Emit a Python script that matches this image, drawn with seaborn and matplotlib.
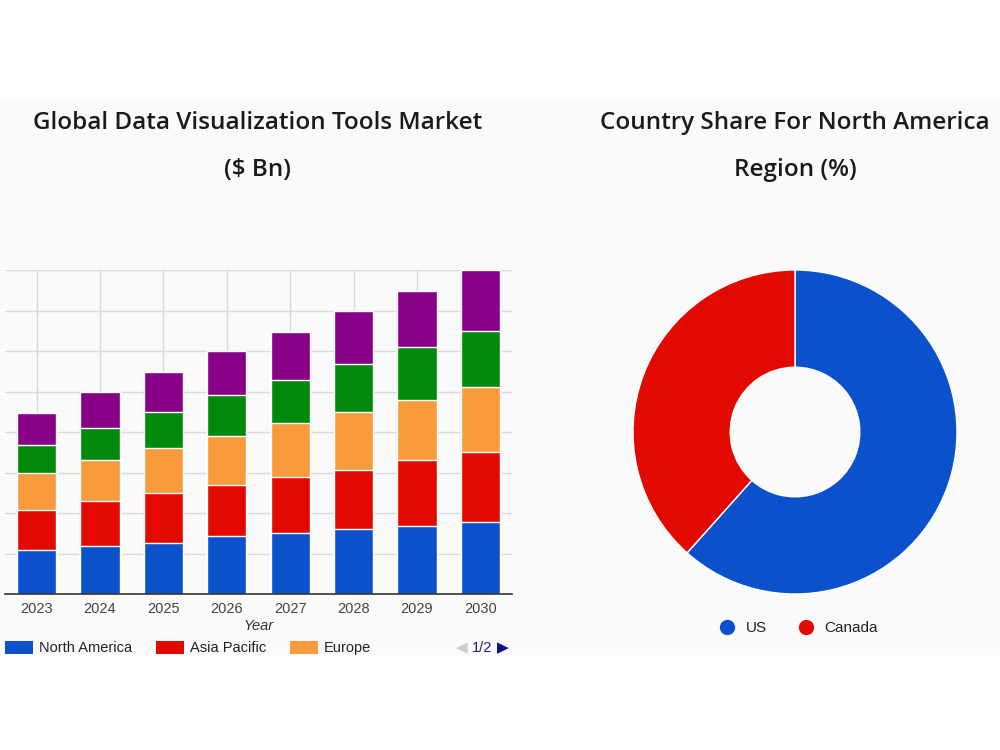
import numpy as np
import pandas as pd
import seaborn as sns
import matplotlib.pyplot as plt
from matplotlib.patches import Patch, Rectangle
from matplotlib.lines import Line2D

# data ($ Bn, y axis has no labels)
years = ["2023", "2024", "2025", "2026", "2027", "2028", "2029", "2030"]
north_america = [1.08, 1.18, 1.27, 1.42, 1.50, 1.60, 1.69, 1.79]
asia_pacific = [1.00, 1.12, 1.22, 1.26, 1.38, 1.47, 1.62, 1.71]
europe = [0.91, 1.01, 1.11, 1.21, 1.34, 1.43, 1.48, 1.62]
latin_america = [0.69, 0.80, 0.90, 1.03, 1.07, 1.18, 1.30, 1.38]
mea = [0.80, 0.89, 0.98, 1.08, 1.19, 1.31, 1.38, 1.50]

countries = ["US", "Canada"]
country_share = [61.6, 38.4]

region_names = ["North America", "Asia Pacific", "Europe", "Latin America", "MEA"]
region_colors = ["#0b51cb", "#e20a00", "#f99b3c", "#00890b", "#880088"]
country_colors = ["#0b51cb", "#e20a00"]

df = pd.DataFrame({"Year": years, "North America": north_america, "Asia Pacific": asia_pacific,
                   "Europe": europe, "Latin America": latin_america, "MEA": mea})

sns.set_style("whitegrid")
plt.rcParams["font.family"] = ["Liberation Sans", "DejaVu Sans"]
bg = "#fafafa"

fig = plt.figure(figsize=(10, 7.5), dpi=100)
fig.patch.set_facecolor("white")
fig.patches.append(Rectangle((0, 1 - 655 / 750), 1, (655 - 100) / 750, transform=fig.transFigure,
                             facecolor=bg, edgecolor="none", zorder=-10))

# stacked bars
ax = fig.add_axes([0.005, 1 - 594 / 750, 0.507, 324 / 750])
ax.set_facecolor(bg)
cum = df[region_names].cumsum(axis=1)
for name, color in reversed(list(zip(region_names, region_colors))):
    sns.barplot(x=df["Year"], y=cum[name], ax=ax, color=color, width=0.62,
                edgecolor="white", linewidth=1, saturation=1, zorder=3)
ax.set_ylim(0, 8)
ax.set_xlim(-0.5, 7.5)
ax.set_yticks(range(0, 9))
ax.set_yticklabels([])
ax.tick_params(axis="y", length=0)
ax.tick_params(axis="x", length=0, labelsize=10.5, labelcolor="#444444", pad=6)
ax.grid(True, color="#d9d9d9", linewidth=1)
for s in ["top", "left", "right"]:
    ax.spines[s].set_visible(False)
ax.spines["bottom"].set_color("#333333")
ax.spines["bottom"].set_linewidth(1.2)
ax.spines["bottom"].set_zorder(5)
ax.set_ylabel("")
ax.set_xlabel("Year", fontstyle="italic", fontsize=10.5, color="#333333", labelpad=2)

handles = [Patch(facecolor=c, edgecolor="none") for c in region_colors[:3]]
fig.legend(handles, region_names[:3], loc="center left", bbox_to_anchor=(0.005, 1 - 648 / 750),
           ncol=3, frameon=False, handlelength=1.95, handleheight=1.0, handletextpad=0.4,
           columnspacing=1.6, fontsize=10.5, labelcolor="#222222", borderaxespad=0, borderpad=0)
fig.text(0.462, 1 - 648 / 750, "\u25c0", color="#cccccc", fontsize=11, ha="center", va="center",
         family="DejaVu Sans")
fig.text(0.482, 1 - 648 / 750, "1/2", color="#1c1c8c", fontsize=10.5, ha="center", va="center")
fig.text(0.503, 1 - 648 / 750, "\u25b6", color="#0d0d8a", fontsize=11, ha="center", va="center",
         family="DejaVu Sans")

# donut
pax = fig.add_axes([0.633, 1 - 594 / 750, 0.324, 324 / 750])
pax.pie(country_share, colors=country_colors, startangle=90, counterclock=False,
        wedgeprops=dict(width=0.6, edgecolor="white", linewidth=1))
pax.set_xlim(-1, 1)
pax.set_ylim(-1, 1)
pax.set_aspect("equal")

dots = [Line2D([], [], marker="o", linestyle="none", markersize=10, markerfacecolor=c,
               markeredgecolor=c) for c in country_colors]
fig.legend(dots, countries, loc="center", bbox_to_anchor=(0.795, 1 - 628 / 750), ncol=2,
           frameon=False, fontsize=11, labelcolor="#222222", handletextpad=0.2,
           columnspacing=1.6, borderaxespad=0, borderpad=0)

# titles
title_kw = dict(fontsize=17.5, fontweight="semibold", color="#1a1a1a", ha="center", va="center",
                family=["Open Sans", "DejaVu Sans"])
fig.text(0.258, 1 - 123 / 750, "Global Data Visualization Tools Market", **title_kw)
fig.text(0.258, 1 - 170 / 750, "($ Bn)", **title_kw)
fig.text(0.795, 1 - 123 / 750, "Country Share For North America", **title_kw)
fig.text(0.795, 1 - 170 / 750, "Region (%)", **title_kw)

fig.savefig("out.png", dpi=100, facecolor="white")
